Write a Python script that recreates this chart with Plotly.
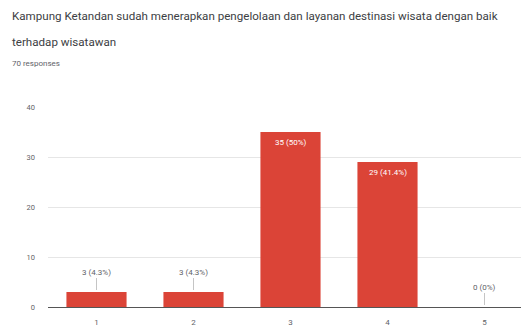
import plotly.graph_objects as go

# Survey answers on a 1-5 scale
categories = [1, 2, 3, 4, 5]
counts = [3, 3, 35, 29, 0]
total_responses = 70

title_line1 = "Kampung Ketandan sudah menerapkan pengelolaan dan layanan destinasi wisata dengan baik"
title_line2 = "terhadap wisatawan"
subtitle = f"{total_responses} responses"

bar_color = "#db4437"
label_grey = "#5f6368"

W, H = 525, 334
plot_left, plot_right = 48, 521
plot_top, plot_bottom = 107, 307
slot = 97.0
pw = plot_right - plot_left
ph = plot_bottom - plot_top


def pct_label(n):
    p = round(n * 100 / total_responses, 1)
    return f"{n} ({p:g}%)"


def paper_xy(xp, yp):
    """Pixel position on the page -> paper coordinates of the plot area."""
    return (xp - plot_left) / pw, (plot_bottom - yp) / ph


fig = go.Figure(
    go.Bar(
        x=categories,
        y=counts,
        marker=dict(color=bar_color, line=dict(width=0)),
        width=0.62,
        hoverinfo="skip",
    )
)

annotations = []
for c, n in zip(categories, counts):
    text = pct_label(n)
    if n >= 10:
        # large bars carry their label inside, near the top
        annotations.append(dict(
            x=c, y=n, xref="x", yref="y", text=text, showarrow=False,
            yanchor="top", yshift=-4,
            font=dict(family="Roboto", size=8, color="white"),
        ))
    else:
        # small bars get a label above with a short leader line
        annotations.append(dict(
            x=c, y=n, xref="x", yref="y", text=text, showarrow=True,
            arrowhead=0, arrowwidth=0.6, arrowcolor="#9e9e9e",
            ax=0, ay=-20, standoff=2,
            font=dict(family="Roboto", size=8, color=label_grey),
        ))

# question text and response count
for txt, yp, size, col in [
    (title_line1, 16, 11.6, "#3c4043"),
    (title_line2, 42, 11.6, "#3c4043"),
    (subtitle, 63, 8, label_grey),
]:
    px_, py_ = paper_xy(10, yp)
    annotations.append(dict(
        x=px_, y=py_, xref="paper", yref="paper", text=txt,
        showarrow=False, xanchor="left", yanchor="middle",
        font=dict(family="Roboto", size=size, color=col),
    ))

fig.update_layout(
    annotations=annotations,
    width=W, height=H,
    margin=dict(l=plot_left, r=W - plot_right, t=plot_top, b=H - plot_bottom),
    paper_bgcolor="white", plot_bgcolor="white",
    showlegend=False,
    xaxis=dict(
        range=[0.5, 0.5 + pw / slot],
        tickvals=categories, ticktext=[str(c) for c in categories],
        showgrid=False, zeroline=False,
        showline=True, linecolor="#555555", linewidth=1,
        ticks="", tickfont=dict(family="Roboto", size=8, color=label_grey),
        ticklabelstandoff=7,
    ),
    yaxis=dict(
        range=[0, 40], tickvals=[0, 10, 20, 30, 40],
        showgrid=True, gridcolor="#e6e6e6", gridwidth=1,
        zeroline=False, showline=False, ticks="",
        tickfont=dict(family="Roboto", size=7.5, color=label_grey),
        ticklabelstandoff=12,
    ),
)

fig.write_html("out.html")
